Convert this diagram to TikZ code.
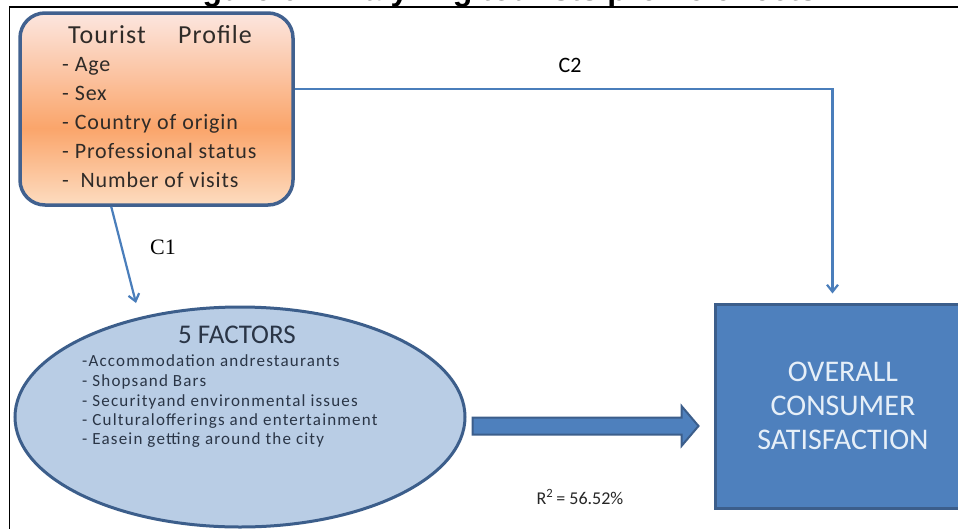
\documentclass[tikz,border=0pt]{standalone}
\usepackage{fontspec}
\setmainfont{Carlito}
\newfontfamily\profont{Carlito}[LetterSpace=4]
\newfontfamily\facfont{Carlito}[LetterSpace=7]
\newfontfamily\headfont{Liberation Sans}
\newfontfamily\cserif{Liberation Serif}
\usetikzlibrary{shapes.geometric,arrows.meta,calc}

% palette
\definecolor{edgeblue}{HTML}{3C5E8B}
\definecolor{tpedge}{HTML}{41618F}
\definecolor{factfill}{HTML}{B9CDE5}
\definecolor{boxfill}{HTML}{4E80BD}
\definecolor{boxtext}{HTML}{E6EFF8}
\definecolor{lineblue}{HTML}{4A7EBB}
\definecolor{factext}{HTML}{2A3546}
\definecolor{protext}{HTML}{2F2B28}
\definecolor{ptop}{HTML}{FCE6DF}
\definecolor{pmid}{HTML}{FAA56B}
\definecolor{pbot}{HTML}{FDDCC0}

% peach gradient of the profile box (inner 25bp..75bp span the box)
\pgfdeclareverticalshading{peach}{100bp}{color(0bp)=(pbot); color(25bp)=(pbot); color(45bp)=(pmid); color(75bp)=(ptop); color(100bp)=(ptop)}

\begin{document}
\begin{tikzpicture}[x=1pt,y=-1pt,
  tpbox/.style={rectangle, rounded corners=25pt, draw=tpedge, line width=3.5pt, shade, shading=peach, inner sep=0pt},
  ptext/.style={anchor=base west, inner sep=0pt, text=protext},
  ftext/.style={anchor=base west, inner sep=0pt, text=factext, font=\facfont\fontsize{17}{20}\selectfont},
  ovbox/.style={rectangle, draw=edgeblue, fill=boxfill, line width=3pt, text=boxtext, align=center,
                font=\fontsize{30}{34}\selectfont},
  conn/.style={draw=lineblue, line width=2.2pt, -{Straight Barb[length=7pt,width=11pt]}},
  bigarrow/.style={draw=edgeblue, fill=boxfill, line width=2pt, line join=miter},
  lbl/.style={inner sep=0pt}
]
\useasboundingbox (0,0) rectangle (958,528);
\clip (0,0) rectangle (958,528);
\fill[white] (0,0) rectangle (958,528);

% caption running off the top, and the page frame
\node[anchor=base west, inner sep=0pt, font=\headfont\bfseries\fontsize{32}{36}\selectfont] (title) at (174,0.5)
  {Figure 6: Analyzing tourists profile effects};
\draw[black, line width=1.6pt] (9.5,7) rectangle (990,560);

% tourist profile box
\node[tpbox, minimum width=273pt, minimum height=192pt] (tp) at (156.5,109) {};
\node[ptext, font=\profont\fontsize{26}{30}\selectfont] (tpa) at (68,43) {Tourist};
\node[ptext, font=\profont\fontsize{26}{30}\selectfont] (tpb) at (178,43) {Profile};
\foreach \t/\y [count=\i] in {{- Age}/71, {- Sex}/100, {- Country of origin}/129,
                             {- Professional status}/158, {-\ \ Number of visits}/187}
  \node[ptext, font=\profont\fontsize{22}{26}\selectfont] (p\i) at (62,\y) {\t};

% the five factors
\node[ellipse, draw=edgeblue, fill=factfill, line width=3pt, minimum width=450pt, minimum height=220pt, inner sep=0pt] (f) at (240,417) {};
\node[anchor=base, inner sep=0pt, text=factext, font=\fontsize{27}{30}\selectfont] (fh) at (237,343) {5 FACTORS};
\foreach \t/\y [count=\i] in {{-Accommodation andrestaurants}/366, {- Shopsand Bars}/386,
                             {- Securityand environmental issues}/406,
                             {- Culturalofferings and entertainment}/425,
                             {- Easein getting around the city}/444}
  \node[ftext] (f\i) at (82,\y) {\t};

% outcome box
\node[ovbox, minimum width=256pt, minimum height=204pt] (ov) at (843,406) {OVERALL\\CONSUMER\\SATISFACTION};

% block arrow from the factors to the outcome
\coordinate (ba) at ($(f.east)+(6,9)$);
\coordinate (bb) at ($(ov.west)+(-15,20)$);
\draw[bigarrow] ($(ba)+(0,-8.5)$) -- ($(bb)+(-17,-8.5)$) -- ($(bb)+(-17,-20)$) -- (bb)
  -- ($(bb)+(-17,20)$) -- ($(bb)+(-17,8.5)$) -- ($(ba)+(0,8.5)$) -- cycle;
\node[lbl, anchor=base, text=black!85, font=\fontsize{18}{21}\selectfont] (r2) at (580,504) {R\textsuperscript{2}\,= 56.52\%};

% path C1: profile to factors
\coordinate (c1s) at ($(tp.south west)+(93,0)$);
\coordinate (c1e) at ($(f.center)+(-104,-114)$);
\draw[conn] (c1s) -- (c1e);
\node[lbl, font=\cserif\fontsize{22}{26}\selectfont] (c1) at (163,247) {C1};

% path C2: profile straight to satisfaction
\coordinate (c2s) at ($(tp.east)+(0,-20)$);
\coordinate (c2e) at ($(ov.north west)+(119,-9)$);
\draw[conn] (c2s) -| (c2e);
\node[lbl, font=\fontsize{22}{26}\selectfont] (c2) at (570,65) {C2};
\end{tikzpicture}
\end{document}
